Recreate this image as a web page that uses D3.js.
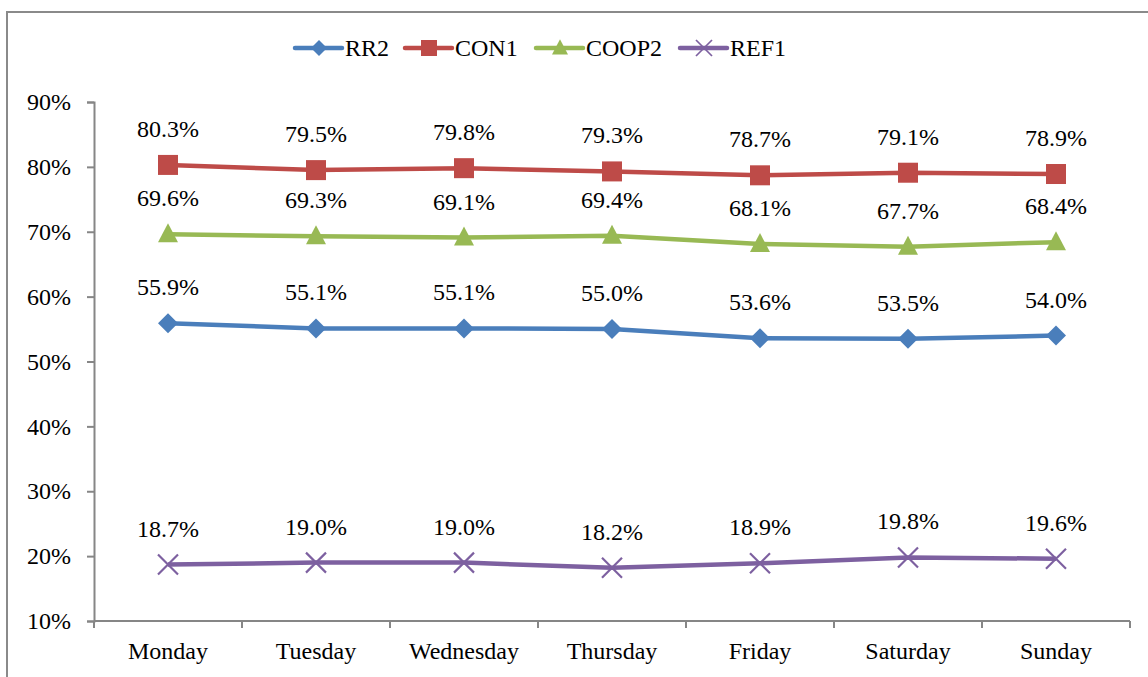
<!DOCTYPE html>
<html>
<head>
<meta charset="utf-8">
<script src="https://cdn.jsdelivr.net/npm/d3@7"></script>
<style>
  html, body { margin: 0; padding: 0; background: #fff; }
</style>
</head>
<body>
<svg id="chart" width="1148" height="677"></svg>
<script>
// Weekday share by group
const days = ["Monday", "Tuesday", "Wednesday", "Thursday", "Friday", "Saturday", "Sunday"];
const rr2 = [55.9, 55.1, 55.1, 55.0, 53.6, 53.5, 54.0];
const con1 = [80.3, 79.5, 79.8, 79.3, 78.7, 79.1, 78.9];
const coop2 = [69.6, 69.3, 69.1, 69.4, 68.1, 67.7, 68.4];
const ref1 = [18.7, 19.0, 19.0, 18.2, 18.9, 19.8, 19.6];
const yTicks = [10, 20, 30, 40, 50, 60, 70, 80, 90];

const series = [
  { name: "RR2", values: rr2, color: "#4A7EBB", marker: "diamond" },
  { name: "CON1", values: con1, color: "#BE4B48", marker: "square" },
  { name: "COOP2", values: coop2, color: "#98B954", marker: "triangle" },
  { name: "REF1", values: ref1, color: "#7D60A0", marker: "cross" },
];

const FONT = "'Liberation Serif', 'Times New Roman', 'DejaVu Serif', serif";
const FS = "24px";

const svg = d3.select("#chart")
  .attr("font-family", FONT)
  .style("font-family", FONT);
const plotLeft = 94, plotRight = 1130, plotTop = 102, plotBottom = 621;

// outer frame (only top and left edges fall inside the picture)
svg.append("path")
  .attr("d", "M7,684V12H1160")
  .attr("fill", "none")
  .attr("stroke", "#8a8a8a")
  .attr("stroke-width", 2);

const x = d3.scaleBand().domain(days).range([plotLeft, plotRight]);
const y = d3.scaleLinear().domain([10, 90]).range([plotBottom, plotTop]);

// y axis
const yAxis = svg.append("g")
  .attr("transform", `translate(${plotLeft},0)`)
  .call(d3.axisLeft(y).tickValues(yTicks).tickSize(7).tickPadding(16).tickFormat(d => d + "%"));
yAxis.attr("font-family", FONT);
yAxis.selectAll("text").style("font-family", FONT).style("font-size", FS).attr("fill", "#000");
yAxis.select(".domain").attr("stroke", "#868686").attr("stroke-width", 2);
yAxis.selectAll(".tick line").attr("stroke", "#868686").attr("stroke-width", 2);

// x axis, ticks between categories
const xAxisG = svg.append("g").attr("transform", `translate(0,${plotBottom})`);
xAxisG.append("line")
  .attr("x1", plotLeft).attr("x2", plotRight)
  .attr("stroke", "#868686").attr("stroke-width", 2);
const bounds = days.map(d => x(d)).concat([plotRight]);
xAxisG.selectAll("line.tick").data(bounds).enter().append("line")
  .attr("class", "tick")
  .attr("x1", d => d).attr("x2", d => d)
  .attr("y1", 0).attr("y2", 7)
  .attr("stroke", "#868686").attr("stroke-width", 2);
xAxisG.selectAll("text").data(days).enter().append("text")
  .attr("x", d => x(d) + x.bandwidth() / 2)
  .attr("y", 38)
  .attr("text-anchor", "middle")
  .style("font-family", FONT)
  .style("font-size", FS)
  .text(d => d);

const cx = (d, i) => x(days[i]) + x.bandwidth() / 2;

function drawMarker(g, type, color) {
  if (type === "diamond") {
    g.append("path").attr("d", "M0,-10L10,0L0,10L-10,0Z").attr("fill", color);
  } else if (type === "square") {
    g.append("rect").attr("x", -10).attr("y", -10).attr("width", 20).attr("height", 20).attr("fill", color);
  } else if (type === "triangle") {
    g.append("path").attr("d", "M0,-11L10,8L-10,8Z").attr("fill", color);
  } else {
    g.append("path").attr("d", "M-10,-10L10,10M-10,10L10,-10")
      .attr("stroke", color).attr("stroke-width", 2.2).attr("fill", "none");
  }
}

const line = d3.line().x(cx).y(d => y(d));

series.forEach(s => {
  const g = svg.append("g");
  g.append("path")
    .datum(s.values)
    .attr("d", line)
    .attr("fill", "none")
    .attr("stroke", s.color)
    .attr("stroke-width", 4.5)
    .attr("stroke-linejoin", "round");

  g.selectAll("g.pt").data(s.values).enter().append("g")
    .attr("class", "pt")
    .attr("transform", (d, i) => `translate(${cx(d, i)},${y(d)})`)
    .each(function () { drawMarker(d3.select(this), s.marker, s.color); });

  g.selectAll("text").data(s.values).enter().append("text")
    .attr("x", cx)
    .attr("y", d => y(d) - 28)
    .attr("text-anchor", "middle")
    .style("font-family", FONT)
    .style("font-size", FS)
    .text(d => d.toFixed(1) + "%");
});

// legend
const legendX = [295, 405, 536, 680];
const legend = svg.append("g").attr("transform", "translate(0,48)");
series.forEach((s, i) => {
  const lg = legend.append("g").attr("transform", `translate(${legendX[i]},0)`);
  lg.append("line").attr("x1", 0).attr("x2", 47)
    .attr("stroke", s.color).attr("stroke-width", 4.5).attr("stroke-linecap", "round");
  const m = lg.append("g").attr("transform", "translate(24,0) scale(0.8)");
  drawMarker(m, s.marker, s.color);
  lg.append("text").attr("x", 50).attr("y", 8)
    .style("font-family", FONT)
    .style("font-size", FS)
    .text(s.name);
});
</script>
</body>
</html>
